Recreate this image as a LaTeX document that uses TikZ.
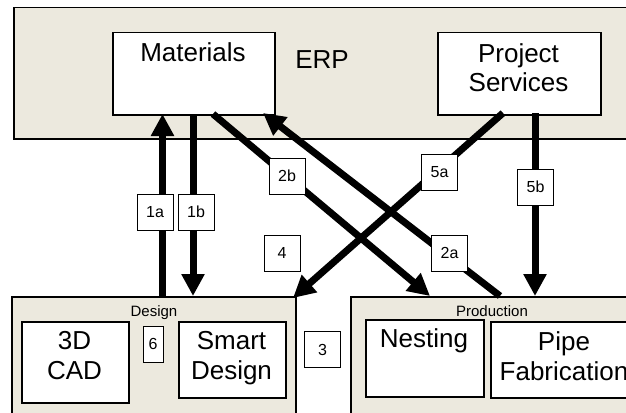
\documentclass[tikz,border=0pt]{standalone}
\usepackage{fontspec}
\setmainfont{Liberation Sans}
\usetikzlibrary{arrows.meta}
\definecolor{panel}{RGB}{236,233,222}
\begin{document}
\begin{tikzpicture}[x=1pt,y=-1pt,
  panelbox/.style={draw=black, line width=1.5pt, fill=panel, inner sep=0pt, anchor=north west},
  unit/.style={draw=black, line width=1.5pt, fill=white, inner sep=0pt, anchor=north west},
  big/.style={font=\fontsize{26}{29.5}\selectfont, align=center, inner sep=0pt, anchor=base},
  small/.style={font=\fontsize{15}{18}\selectfont, inner sep=0pt, anchor=base},
  tag/.style={draw=black, line width=1pt, fill=white, font=\fontsize{16}{18}\selectfont,
    inner sep=0pt, minimum width=36pt, minimum height=36pt},
  flow/.style={line width=7pt, -{Triangle[length=22pt,width=22pt]}},
]
\useasboundingbox (0,0) rectangle (626,412);
\clip (0,0) rectangle (626,412);

% system panels
\node[panelbox, minimum width=630pt, minimum height=131pt] (erp) at (13,7) {};
\node[panelbox, minimum width=284pt, minimum height=130pt] (design) at (11,296) {};
\node[panelbox, minimum width=290pt, minimum height=130pt] (prod) at (350,296) {};

% ERP modules
\node[unit, minimum width=162pt, minimum height=82pt] (mat) at (112,32) {};
\node[unit, minimum width=163pt, minimum height=82pt] (ps) at (437,32) {};
\node[big] (matlbl) at (193,62) {Materials};
\node[big] (erplbl) at (322,68) {ERP};
\node[big] (pslbl) at (518.5,92) {Project\\Services};

% design modules
\node[small] (deslbl) at (154,316) {Design};
\node[unit, minimum width=107pt, minimum height=81pt] (cad) at (21,321) {};
\node[unit, minimum width=107pt, minimum height=76pt] (sd) at (178,321) {};
\node[big] (cadlbl) at (74.5,379) {3D\\CAD};
\node[big] (sdlbl) at (231.5,379) {Smart\\Design};

% production modules
\node[small] (prodlbl) at (492,316) {Production};
\node[unit, minimum width=118pt, minimum height=77pt] (nest) at (365,319) {};
\node[unit, minimum width=148pt, minimum height=76pt] (pipe) at (490,321) {};
\node[big] (nestlbl) at (424,347) {Nesting};
\node[big] (pipelbl) at (564,380) {Pipe\\Fabrication};

% connector end points on the module borders
\coordinate (d1a) at (162.5,296);
\coordinate (m1a) at (162.5,114);
\coordinate (m1b) at (193,114);
\coordinate (d1b) at (193,296);
\coordinate (m2b) at (213,114);
\coordinate (p2b) at (430,296);
\coordinate (p2a) at (500,296);
\coordinate (m2a) at (263,113);
\coordinate (s5a) at (503,113);
\coordinate (d5a) at (293,298);
\coordinate (s5b) at (535,113);
\coordinate (p5b) at (535,296);

% information flows
\draw[flow] (d1a) -- (m1a);
\draw[flow] (m1b) -- (d1b);
\draw[flow] (m2b) -- (p2b);
\draw[flow] (p2a) -- (m2a);
\draw[flow] (s5a) -- (d5a);
\draw[flow] (s5b) -- (p5b);

% flow tags
\node[tag] (t1a) at (155,212) {1a};
\node[tag] (t1b) at (196,212) {1b};
\node[tag] (t2b) at (287,176) {2b};
\node[tag] (t2a) at (449.5,253) {2a};
\node[tag] (t5a) at (439.5,172) {5a};
\node[tag] (t5b) at (535.5,187) {5b};
\node[tag] (t4) at (282,253) {4};
\node[tag] (t3) at (322.5,349.5) {3};
\node[tag, minimum width=20pt] (t6) at (153,344) {6};
\end{tikzpicture}
\end{document}
